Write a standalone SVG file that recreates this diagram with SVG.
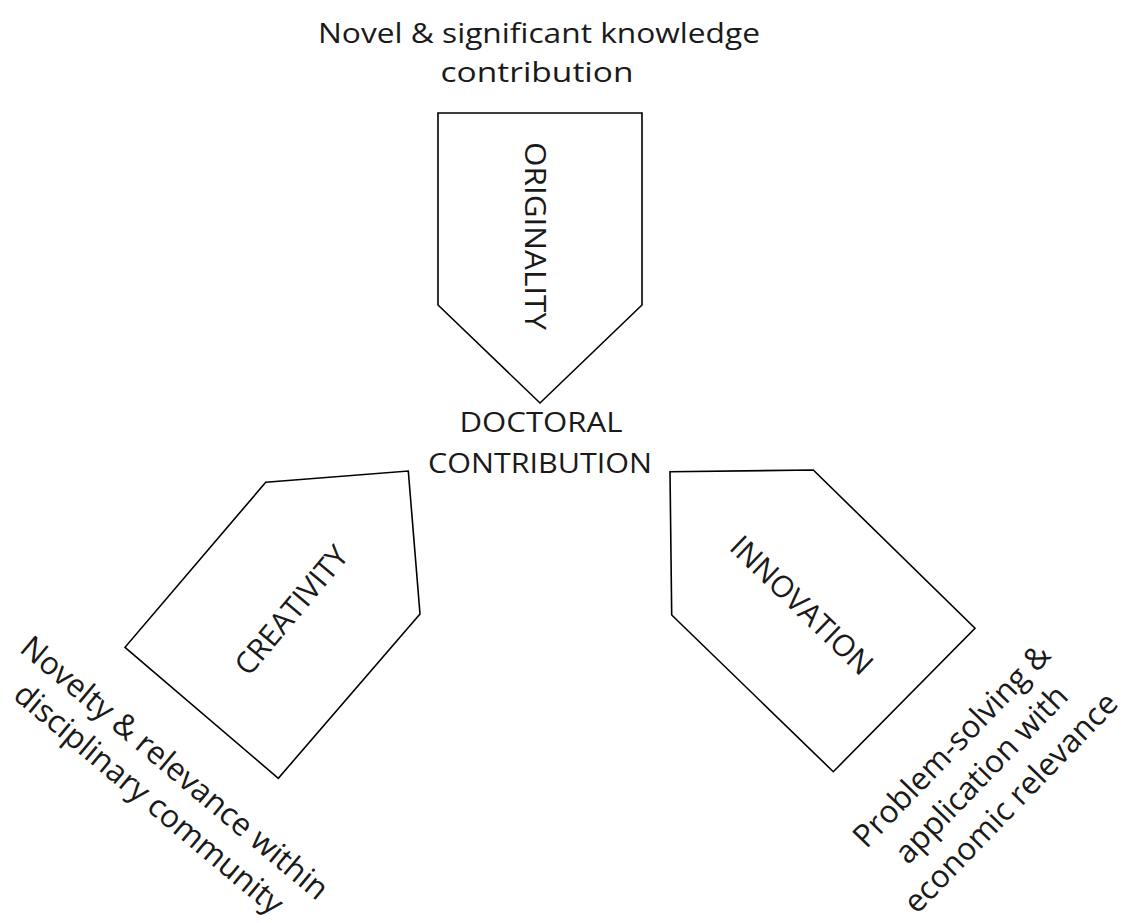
<svg xmlns="http://www.w3.org/2000/svg" width="1122" height="923" viewBox="0 0 1122 923">
<style>
.shape{fill:#ffffff;stroke:#000000;stroke-width:1.6;stroke-linejoin:miter}
.t{font-family:"Open Sans","Noto Sans","Liberation Sans",sans-serif;font-size:28px;fill:#1a1a1a;text-anchor:middle}
.big{font-size:30px}
.ann{font-size:31.5px}
</style>
<rect width="1122" height="923" fill="#ffffff"/>
<g id="connectors"></g>
<g id="top-label">
<text class="t" x="539" y="43" textLength="442" lengthAdjust="spacingAndGlyphs">Novel &amp; significant knowledge</text>
<text class="t" x="537" y="82" textLength="193" lengthAdjust="spacingAndGlyphs">contribution</text>
</g>
<g id="originality">
<polygon class="shape" points="438,113 642,113 642,305 540,403 438,305"/>
<text class="t big" transform="translate(536,236) rotate(90)" y="11" textLength="188" lengthAdjust="spacingAndGlyphs">ORIGINALITY</text>
</g>
<g id="doctoral">
<text class="t" x="541" y="432" textLength="163" lengthAdjust="spacingAndGlyphs">DOCTORAL</text>
<text class="t" x="540" y="473" textLength="224" lengthAdjust="spacingAndGlyphs">CONTRIBUTION</text>
</g>
<g id="creativity">
<polygon class="shape" points="265.7,482.3 408.3,471 420,614 278.3,778.3 125,647.3"/>
<text class="t big" transform="translate(291,610) rotate(-50)" y="11">CREATIVITY</text>
</g>
<g id="innovation">
<polygon class="shape" points="670,471.7 813.3,470 975,628.3 833.3,771.7 671.7,615"/>
<text class="t big" transform="translate(802,605) rotate(44)" y="11">INNOVATION</text>
</g>
<g id="creativity-label" transform="translate(162,783) rotate(40)">
<text class="t ann" x="0" y="-9">Novelty &amp; relevance within</text>
<text class="t ann" x="0" y="31">disciplinary community</text>
</g>
<g id="innovation-label" transform="translate(981,774) rotate(-46)">
<text class="t ann" x="0" y="-30">Problem-solving &amp;</text>
<text class="t ann" x="0" y="11">application with</text>
<text class="t ann" x="0" y="52">economic relevance</text>
</g>
</svg>
